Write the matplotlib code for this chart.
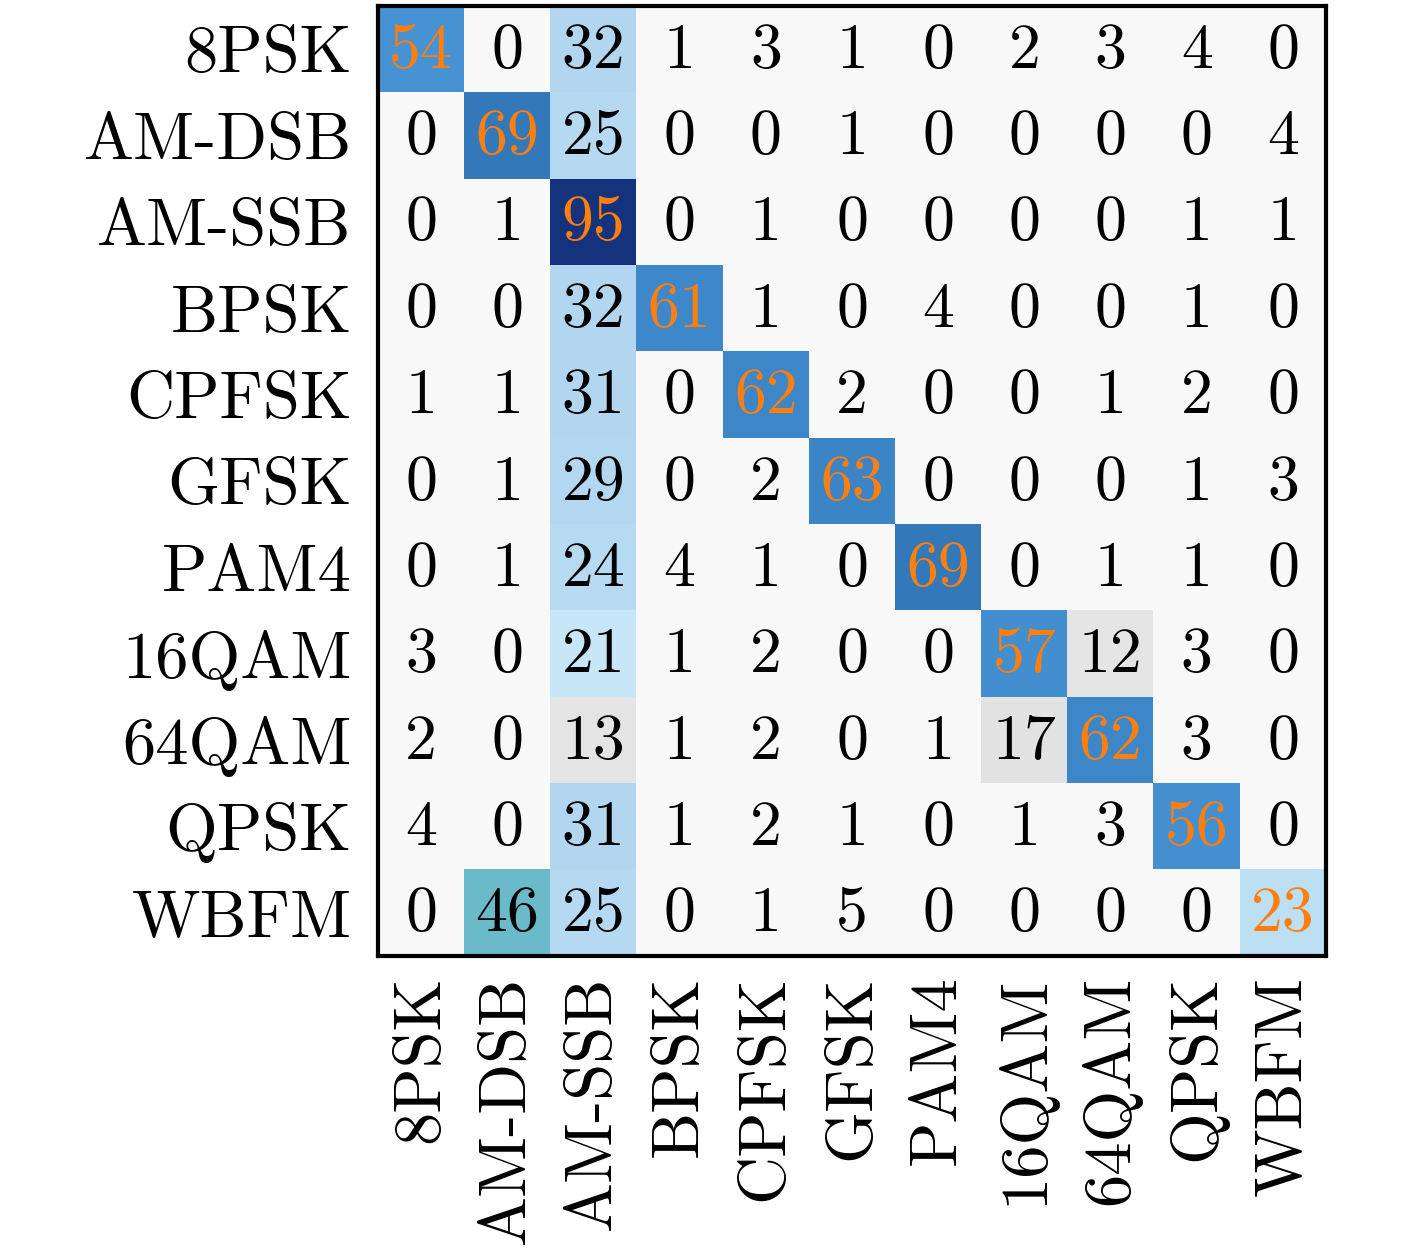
import numpy as np
import matplotlib
matplotlib.use("Agg")
import matplotlib.pyplot as plt
from matplotlib.colors import LinearSegmentedColormap

# --- DATA ---
CLASSES = ["8PSK", "AM-DSB", "AM-SSB", "BPSK", "CPFSK", "GFSK",
           "PAM4", "16QAM", "64QAM", "QPSK", "WBFM"]

ROW_8PSK = [54, 0, 32, 1, 3, 1, 0, 2, 3, 4, 0]
ROW_AMDSB = [0, 69, 25, 0, 0, 1, 0, 0, 0, 0, 4]
ROW_AMSSB = [0, 1, 95, 0, 1, 0, 0, 0, 0, 1, 1]
ROW_BPSK = [0, 0, 32, 61, 1, 0, 4, 0, 0, 1, 0]
ROW_CPFSK = [1, 1, 31, 0, 62, 2, 0, 0, 1, 2, 0]
ROW_GFSK = [0, 1, 29, 0, 2, 63, 0, 0, 0, 1, 3]
ROW_PAM4 = [0, 1, 24, 4, 1, 0, 69, 0, 1, 1, 0]
ROW_16QAM = [3, 0, 21, 1, 2, 0, 0, 57, 12, 3, 0]
ROW_64QAM = [2, 0, 13, 1, 2, 0, 1, 17, 62, 3, 0]
ROW_QPSK = [4, 0, 31, 1, 2, 1, 0, 1, 3, 56, 0]
ROW_WBFM = [0, 46, 25, 0, 1, 5, 0, 0, 0, 0, 23]

conf = np.array([ROW_8PSK, ROW_AMDSB, ROW_AMSSB, ROW_BPSK, ROW_CPFSK, ROW_GFSK,
                 ROW_PAM4, ROW_16QAM, ROW_64QAM, ROW_QPSK, ROW_WBFM])

# colour scale picked to look like the original figure
nodes = [
    (0.00, "#f8f8f8"),
    (0.08, "#f8f8f8"),
    (0.10, "#e6e6e6"),
    (0.18, "#e2e2e2"),
    (0.20, "#cceafa"),
    (0.24, "#b6daf2"),
    (0.36, "#b0d4f0"),
    (0.42, "#72c0cc"),
    (0.48, "#68b8c8"),
    (0.52, "#4a96d6"),
    (0.60, "#408acc"),
    (0.70, "#3278b8"),
    (0.88, "#1a3c8a"),
    (1.00, "#122c74"),
]
cmap = LinearSegmentedColormap.from_list("conf", nodes)

plt.rcParams["font.family"] = "cmr10"
plt.rcParams["axes.formatter.use_mathtext"] = True

fig = plt.figure(figsize=(14.17, 12.5), dpi=100)
ax = fig.add_axes([0.2668, 0.2352, 0.669, 0.760])

ax.imshow(conf, cmap=cmap, vmin=0, vmax=100, aspect="auto",
          interpolation="nearest")

n = len(CLASSES)
for i in range(n):
    for j in range(n):
        color = "#ff7f0e" if i == j else "black"
        ax.text(j, i + 0.03, str(conf[i, j]), ha="center", va="center",
                fontsize=46, color=color)

ax.set_xticks(range(n))
ax.set_yticks(range(n))
ax.set_xticklabels(CLASSES, rotation=90, fontsize=48)
ax.set_yticklabels(CLASSES, fontsize=48)
ax.tick_params(axis="y", length=0, pad=19)
ax.tick_params(axis="x", length=0, pad=14)

for sp in ax.spines.values():
    sp.set_linewidth(3)

fig.savefig("out.png", dpi=100)
